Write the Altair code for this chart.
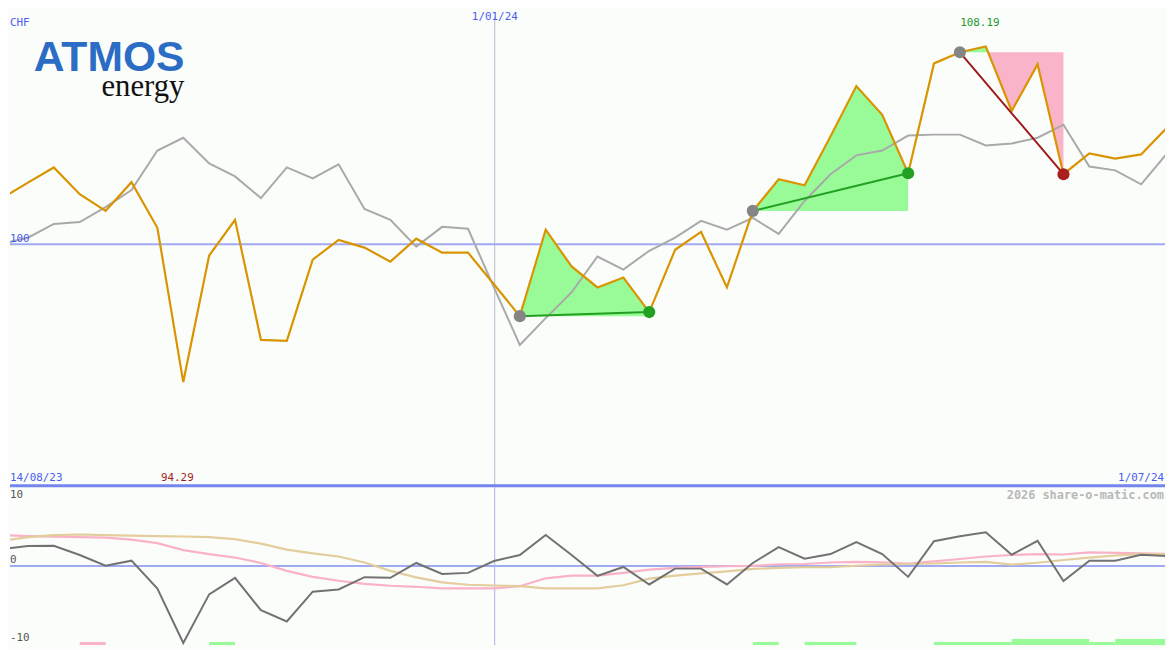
import altair as alt
import pandas as pd

# ---------------- data ----------------
idx = list(range(46))
price = [101.91, 102.55, 103.18, 102.07, 101.38, 102.57, 100.68, 94.29, 99.53, 101.01,
         96.04, 96.00, 99.36, 100.18, 99.86, 99.28, 100.23, 99.65, 99.65, 98.34,
         97.02, 100.60, 99.08, 98.21, 98.62, 97.19, 99.77, 100.51, 98.21, 101.38,
         102.69, 102.44, 104.46, 106.55, 105.36, 102.94, 107.49, 107.95, 108.19, 105.52,
         107.45, 102.90, 103.76, 103.55, 103.72, 104.83]
bench = [100.02, 100.27, 100.84, 100.92, 101.54, 102.24, 103.88, 104.41, 103.35, 102.81,
         101.91, 103.18, 102.73, 103.31, 101.46, 101.01, 99.90, 100.72, 100.64, 98.21,
         95.83, 96.94, 98.01, 99.49, 98.95, 99.73, 100.27, 100.97, 100.60, 101.09,
         100.43, 101.79, 102.90, 103.68, 103.88, 104.50, 104.54, 104.54, 104.09, 104.17,
         104.41, 104.95, 103.22, 103.06, 102.48, 103.76]
osc = [2.33, 2.74, 2.78, 1.51, 0.04, 0.73, -3.11, -10.64, -3.93, -1.64,
       -6.12, -7.67, -3.56, -3.25, -1.55, -1.64, 0.41, -1.10, -0.96, 0.68,
       1.51, 4.29, 1.51, -1.37, -0.14, -2.56, -0.37, -0.37, -2.56, 0.41,
       2.60, 1.00, 1.64, 3.29, 1.64, -1.51, 3.42, 4.11, 4.66, 1.55,
       3.47, -2.10, 0.73, 0.73, 1.55, 1.37]
ma_pink = [4.25, 4.11, 4.04, 3.97, 3.90, 3.63, 3.15, 2.19, 1.64, 1.16,
           0.41, -0.68, -1.51, -2.05, -2.47, -2.74, -2.88, -3.11, -3.11, -3.11,
           -2.81, -1.71, -1.33, -1.33, -0.96, -0.51, -0.27, -0.14, -0.04, 0.00,
           0.23, 0.27, 0.48, 0.55, 0.51, 0.34, 0.62, 0.96, 1.30, 1.51,
           1.64, 1.58, 1.88, 1.81, 1.74, 1.68]
ma_tan = [3.47, 3.97, 4.25, 4.34, 4.25, 4.18, 4.11, 4.07, 3.97, 3.70,
          3.08, 2.26, 1.74, 1.30, 0.48, -0.68, -1.58, -2.26, -2.60, -2.70,
          -2.78, -3.11, -3.11, -3.11, -2.67, -1.75, -1.33, -1.03, -0.75, -0.41,
          -0.27, -0.18, -0.18, 0.03, 0.21, 0.27, 0.34, 0.48, 0.55, 0.18,
          0.44, 0.82, 1.16, 1.44, 1.64, 1.64]

trend_start = [20, 29, 37]
trend_end = [25, 35, 41]

signal_start = [3, 8, 29, 31, 36, 39, 42, 43]
signal_end = [4, 9, 30, 33, 39, 42, 43, 45]
signal_level = [1, 1, 1, 1, 1, 2, 1, 2]
signal_kind = ["sell", "buy", "buy", "buy", "buy", "buy", "buy", "buy"]

new_year_pos = 19.03
date_first = "14/08/23"
date_last = "1/07/24"
date_mid = "1/01/24"

# ---------------- styling ----------------
W = 1165
H1 = 481
H2 = 159
# visible windows (the page margin hides the outer 8px of the original frame)
XS = alt.Scale(domain=[0.3064, 44.923], nice=False, zero=False)
YS = alt.Scale(domain=[89.918, 109.671], nice=False, zero=False)
YO = alt.Scale(domain=[-10.96, 10.82], nice=False, zero=False)
YB = alt.Scale(domain=[0, 50], nice=False, zero=False)
BLUE_TXT = "#4a5cf0"
FONT = "DejaVu Sans Mono"
GREEN_FILL = "#98fb98"
PINK_FILL = "#f9b4c9"

# ---------------- tables ----------------
df = pd.DataFrame({"i": idx, "price": price, "bench": bench,
                   "osc": osc, "pink": ma_pink, "tan": ma_tan})

fill_rows = []
trend_rows = []
marker_rows = []
for k, (s, e) in enumerate(zip(trend_start, trend_end)):
    base = price[s]
    up = price[e] >= base
    pts = []
    for i in range(s, e + 1):
        if i > s:
            p0, p1 = price[i - 1], price[i]
            if (p0 - base) * (p1 - base) < 0:
                t = (base - p0) / (p1 - p0)
                pts.append((i - 1 + t, base))
        pts.append((i, price[i]))
    for x, p in pts:
        fill_rows.append({"x": x, "y": max(p, base), "y2": base, "kind": "gain", "grp": f"g{k}"})
        fill_rows.append({"x": x, "y": min(p, base), "y2": base, "kind": "loss", "grp": f"l{k}"})
    trend_rows.append({"x": s, "x2": e, "y": base, "y2": price[e], "dir": "up" if up else "down"})
    marker_rows.append({"x": s, "y": base, "kind": "start"})
    marker_rows.append({"x": e, "y": price[e], "kind": "up" if up else "down"})

fills = pd.DataFrame(fill_rows)
trends = pd.DataFrame(trend_rows)
markers = pd.DataFrame(marker_rows)
signals = pd.DataFrame({"s": signal_start, "e": signal_end,
                        "lvl": signal_level, "kind": signal_kind})

imax = max(idx, key=lambda i: price[i])
imin = min(idx, key=lambda i: price[i])

# ---------------- main panel ----------------
base_main = alt.Chart(df)


def fill_layer(kind, color):
    return alt.Chart(fills).transform_filter(alt.datum.kind == kind).mark_area(
        color=color, opacity=1, interpolate="linear", clip=True
    ).encode(
        x=alt.X("x:Q", scale=XS, axis=None),
        y=alt.Y("y:Q", scale=YS, axis=None, stack=None),
        y2="y2:Q",
        detail="grp:N",
    )


def trend_layer(d, color):
    return alt.Chart(trends).transform_filter(alt.datum.dir == d).mark_rule(
        strokeWidth=2, color=color
    ).encode(
        x=alt.X("x:Q", scale=XS, axis=None), x2="x2:Q",
        y=alt.Y("y:Q", scale=YS, axis=None), y2="y2:Q",
    )


def marker_layer(kind, color):
    return alt.Chart(markers).transform_filter(alt.datum.kind == kind).mark_circle(
        size=150, opacity=1, color=color
    ).encode(
        x=alt.X("x:Q", scale=XS, axis=None),
        y=alt.Y("y:Q", scale=YS, axis=None),
    )


hline100 = alt.Chart(pd.DataFrame({"v": [100]})).mark_rule(color="#a0aaf2", strokeWidth=2).encode(
    y=alt.Y("v:Q", scale=YS, axis=None))
sep = alt.Chart(pd.DataFrame({"v": [90]})).mark_rule(color="#7585ee", strokeWidth=3).encode(
    y=alt.Y("v:Q", scale=YS, axis=None))
vline = alt.Chart(pd.DataFrame({"v": [new_year_pos]})).mark_rule(color="#b8bccc", strokeWidth=1).encode(
    x=alt.X("v:Q", scale=XS, axis=None), y=alt.value(6), y2=alt.value(H1))

bench_line = base_main.mark_line(color="#a9a9a9", strokeWidth=2, clip=True).encode(
    x=alt.X("i:Q", scale=XS, axis=None), y=alt.Y("bench:Q", scale=YS, axis=None))
price_line = base_main.mark_line(color="#d99400", strokeWidth=2.2, clip=True).encode(
    x=alt.X("i:Q", scale=XS, axis=None), y=alt.Y("price:Q", scale=YS, axis=None))


def label(text, x, y, color=BLUE_TXT, align="left", size=11, font=FONT, weight="normal", baseline="middle"):
    return alt.Chart(pd.DataFrame({"t": [text]})).mark_text(
        align=align, baseline=baseline, color=color, fontSize=size, font=font, fontWeight=weight
    ).encode(text="t:N", x=alt.value(x), y=alt.value(y))


max_lbl = alt.Chart(pd.DataFrame({"i": [imax], "t": [f"{price[imax]:.2f}"]})).mark_text(
    align="center", baseline="middle", color="#22992a", fontSize=11, font=FONT, dx=-6
).encode(x=alt.X("i:Q", scale=XS, axis=None), y=alt.value(12), text="t:N")
min_lbl = alt.Chart(pd.DataFrame({"i": [imin], "t": [f"{price[imin]:.2f}"]})).mark_text(
    align="center", baseline="middle", color="#a01c1c", fontSize=11, font=FONT, dx=-6
).encode(x=alt.X("i:Q", scale=XS, axis=None), y=alt.value(471), text="t:N")

logo1 = label("ATMOS", 176, 61, color="#2b6cc4", align="right", size=43,
              font="Liberation Sans", weight="bold", baseline="alphabetic")
logo2 = label("energy", 176, 86, color="#111111", align="right", size=31,
              font="Liberation Serif", baseline="alphabetic")

main = alt.layer(
    vline, hline100,
    fill_layer("gain", GREEN_FILL), fill_layer("loss", PINK_FILL),
    bench_line, price_line,
    trend_layer("up", "#22a022"), trend_layer("down", "#9e1a1a"),
    marker_layer("start", "#858585"), marker_layer("up", "#22a022"), marker_layer("down", "#a82020"),
    sep, max_lbl, min_lbl,
    label("CHF", 0, 12), label("100", 0, 230),
    label(date_mid, 489, 0, align="center", baseline="top"),
    label(date_first, 0, 471), label(date_last, W - 1, 471, align="right"),
    logo1, logo2,
).properties(width=W, height=H1)

# ---------------- lower panel ----------------
base_low = alt.Chart(df)
zero = alt.Chart(pd.DataFrame({"v": [0]})).mark_rule(color="#a0aaf2", strokeWidth=2).encode(
    y=alt.Y("v:Q", scale=YO, axis=None))
vline2 = alt.Chart(pd.DataFrame({"v": [new_year_pos]})).mark_rule(color="#a8b0ee", strokeWidth=1).encode(
    x=alt.X("v:Q", scale=XS, axis=None), y=alt.value(0), y2=alt.value(H2))
pink_line = base_low.mark_line(color="#f9b2c8", strokeWidth=2.2, clip=True).encode(
    x=alt.X("i:Q", scale=XS, axis=None), y=alt.Y("pink:Q", scale=YO, axis=None))
tan_line = base_low.mark_line(color="#e3cd9c", strokeWidth=2.2, clip=True).encode(
    x=alt.X("i:Q", scale=XS, axis=None), y=alt.Y("tan:Q", scale=YO, axis=None))
osc_line = base_low.mark_line(color="#727272", strokeWidth=2, clip=True).encode(
    x=alt.X("i:Q", scale=XS, axis=None), y=alt.Y("osc:Q", scale=YO, axis=None))


def sig_layer(kind, color):
    return alt.Chart(signals).transform_filter(alt.datum.kind == kind).mark_rect(color=color, clip=True).encode(
        x=alt.X("s:Q", scale=XS, axis=None), x2="e:Q",
        y=alt.Y("lvl:Q", scale=YB, axis=None),
        y2=alt.datum(0),
    )


lower = alt.layer(
    zero, vline2, pink_line, tan_line, osc_line,
    sig_layer("buy", GREEN_FILL), sig_layer("sell", PINK_FILL),
    label("10", 0, 7, color="#555555"), label("0", 0, 73, color="#555555"),
    label("-10", 0, 152, color="#555555"),
    label("2026 share-o-matic.com", W - 1, 7, color="#b8b8b8", align="right", size=12, weight="bold"),
).resolve_scale(y="independent").properties(width=W, height=H2)

chart = alt.vconcat(main, lower, spacing=0, bounds="flush").properties(
    padding=0, background="#fbfdfb"
).configure_view(stroke=None).configure_concat(spacing=0)

chart.save("out.html", embed_options={"renderer": "svg", "actions": False})
